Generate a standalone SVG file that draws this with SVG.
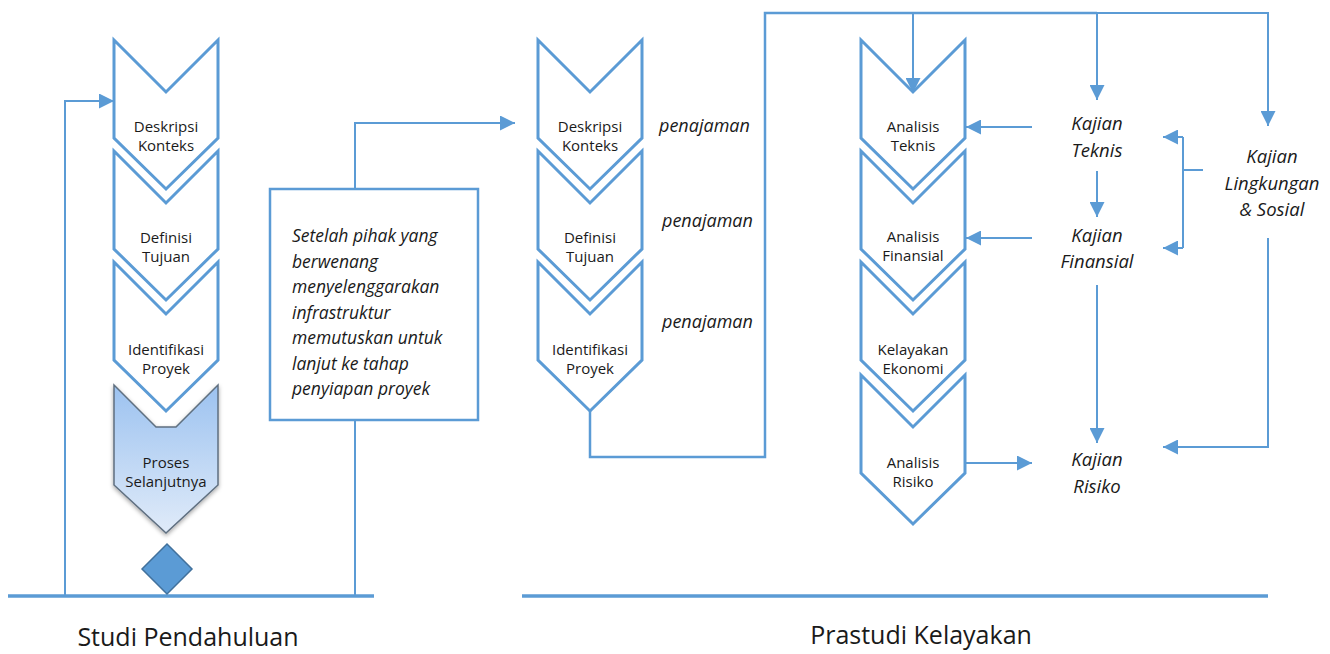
<svg xmlns="http://www.w3.org/2000/svg" width="1330" height="654" viewBox="0 0 1330 654">
<defs>
<marker id="arr" viewBox="0 0 10 10" refX="10" refY="5" markerWidth="15" markerHeight="15" markerUnits="userSpaceOnUse" orient="auto"><path d="M0,0 L10,5 L0,10 z" fill="#5B9BD5"/></marker>
<linearGradient id="pg" x1="0" y1="0" x2="0" y2="1"><stop offset="0" stop-color="#9CC2F0"/><stop offset="1" stop-color="#E0EBF9"/></linearGradient>
<filter id="sh" x="-20%" y="-20%" width="140%" height="140%"><feDropShadow dx="0" dy="2" stdDeviation="2" flood-color="#000" flood-opacity="0.35"/></filter>
</defs>
<style>
.chev{fill:#fff;stroke:#5B9BD5;stroke-width:3;stroke-linejoin:miter}
.lbl{font-family:"Open Sans","Noto Sans",sans-serif;font-size:15px;fill:#1a1a1a;text-anchor:middle}
.it{font-family:"Open Sans","Noto Sans",sans-serif;font-style:italic;font-size:18.5px;fill:#1a1a1a;text-anchor:middle}
.pen{font-family:"Open Sans","Noto Sans",sans-serif;font-style:italic;font-size:18px;fill:#1a1a1a}
.box{font-family:"Open Sans","Noto Sans",sans-serif;font-style:italic;font-size:17.5px;fill:#1a1a1a}
.title{font-family:"Open Sans","Noto Sans",sans-serif;font-size:25px;fill:#1a1a1a;text-anchor:middle}
.cn{fill:none;stroke:#5B9BD5;stroke-width:2}
.base{stroke:#5B9BD5;stroke-width:3.5}
</style>

<g id="baselines">
<line class="base" x1="8" y1="596" x2="374" y2="596"/>
<line class="base" x1="522" y1="596" x2="1268" y2="596"/>
</g>

<g id="connectors">
<path class="cn" d="M65,596 V101 H114" marker-end="url(#arr)"/>
<path class="cn" d="M355,596 V420"/>
<path class="cn" d="M355,189 V123 H515" marker-end="url(#arr)"/>
<path class="cn" style="stroke-width:2.5" d="M590,411 V457 H765 V13 H1097"/>
<path class="cn" d="M1097,13 H1268 V126" marker-end="url(#arr)"/>
<path class="cn" d="M913,13 V93" marker-end="url(#arr)"/>
<path class="cn" d="M1097,13 V100" marker-end="url(#arr)"/>
<path class="cn" d="M1032,127 H966" marker-end="url(#arr)"/>
<path class="cn" d="M1032,238 H966" marker-end="url(#arr)"/>
<path class="cn" d="M1097,171 V217" marker-end="url(#arr)"/>
<path class="cn" d="M1203,170 H1183"/>
<path class="cn" d="M1183,137 V248"/>
<path class="cn" d="M1183,137 H1163" marker-end="url(#arr)"/>
<path class="cn" d="M1183,248 H1163" marker-end="url(#arr)"/>
<path class="cn" d="M1097,285 V443" marker-end="url(#arr)"/>
<path class="cn" d="M1268,238 V447 H1163" marker-end="url(#arr)"/>
<path class="cn" d="M965,463 H1032" marker-end="url(#arr)"/>
</g>

<g id="proses">
<path d="M114,385 L156,427 L176,427 L218,385 L218,485 L166,533 L114,485 Z" fill="url(#pg)" stroke="#5F6F80" stroke-width="1.5" filter="url(#sh)"/>
<text class="lbl" x="166" y="468">Proses</text>
<text class="lbl" x="166" y="487">Selanjutnya</text>
</g>

<g id="l-deskripsi">
<path class="chev" d="M114,40 L166,92 L218,40 L218,138 L166,189 L114,138 Z"/>
<text class="lbl" x="166" y="132">Deskripsi</text>
<text class="lbl" x="166" y="151">Konteks</text>
</g>
<g id="l-definisi">
<path class="chev" d="M114,151 L166,203 L218,151 L218,249 L166,300 L114,249 Z"/>
<text class="lbl" x="166" y="243">Definisi</text>
<text class="lbl" x="166" y="262">Tujuan</text>
</g>
<g id="l-identifikasi">
<path class="chev" d="M114,262 L166,314 L218,262 L218,360 L166,411 L114,360 Z"/>
<text class="lbl" x="166" y="355">Identifikasi</text>
<text class="lbl" x="166" y="374">Proyek</text>
</g>

<g id="diamond">
<path d="M167,544 L192,569 L167,594 L142,569 Z" fill="#5B9BD5" stroke="#41719C" stroke-width="1.5"/>
</g>

<g id="note">
<rect x="270" y="189" width="208" height="231" fill="#fff" stroke="#5B9BD5" stroke-width="2.5"/>
<text class="box" x="292" y="242">Setelah pihak yang</text>
<text class="box" x="292" y="267.5">berwenang</text>
<text class="box" x="292" y="293">menyelenggarakan</text>
<text class="box" x="292" y="318.5">infrastruktur</text>
<text class="box" x="292" y="344">memutuskan untuk</text>
<text class="box" x="292" y="369.5">lanjut ke tahap</text>
<text class="box" x="292" y="395">penyiapan proyek</text>
</g>

<g id="m-deskripsi">
<path class="chev" d="M538,40 L590,92 L642,40 L642,138 L590,189 L538,138 Z"/>
<text class="lbl" x="590" y="132">Deskripsi</text>
<text class="lbl" x="590" y="151">Konteks</text>
</g>
<g id="m-definisi">
<path class="chev" d="M538,151 L590,203 L642,151 L642,249 L590,300 L538,249 Z"/>
<text class="lbl" x="590" y="243">Definisi</text>
<text class="lbl" x="590" y="262">Tujuan</text>
</g>
<g id="m-identifikasi">
<path class="chev" d="M538,262 L590,314 L642,262 L642,360 L590,411 L538,360 Z"/>
<text class="lbl" x="590" y="355">Identifikasi</text>
<text class="lbl" x="590" y="374">Proyek</text>
</g>

<g id="penajaman">
<text class="pen" x="659" y="132">penajaman</text>
<text class="pen" x="662" y="227">penajaman</text>
<text class="pen" x="662" y="328">penajaman</text>
</g>

<g id="r-teknis">
<path class="chev" d="M861,40 L913,92 L965,40 L965,138 L913,189 L861,138 Z"/>
<text class="lbl" x="913" y="132">Analisis</text>
<text class="lbl" x="913" y="151">Teknis</text>
</g>
<g id="r-finansial">
<path class="chev" d="M861,151 L913,203 L965,151 L965,249 L913,300 L861,249 Z"/>
<text class="lbl" x="913" y="242">Analisis</text>
<text class="lbl" x="913" y="261">Finansial</text>
</g>
<g id="r-ekonomi">
<path class="chev" d="M861,262 L913,314 L965,262 L965,360 L913,411 L861,360 Z"/>
<text class="lbl" x="913" y="355">Kelayakan</text>
<text class="lbl" x="913" y="374">Ekonomi</text>
</g>
<g id="r-risiko">
<path class="chev" d="M861,375 L913,427 L965,375 L965,473 L913,524 L861,473 Z"/>
<text class="lbl" x="913" y="468">Analisis</text>
<text class="lbl" x="913" y="487">Risiko</text>
</g>

<g id="k-teknis">
<text class="it" x="1097" y="130">Kajian</text>
<text class="it" x="1097" y="157">Teknis</text>
</g>
<g id="k-finansial">
<text class="it" x="1097" y="242">Kajian</text>
<text class="it" x="1097" y="268">Finansial</text>
</g>
<g id="k-lingkungan">
<text class="it" x="1272" y="163">Kajian</text>
<text class="it" x="1272" y="190">Lingkungan</text>
<text class="it" x="1272" y="216">&amp; Sosial</text>
</g>
<g id="k-risiko">
<text class="it" x="1097" y="466">Kajian</text>
<text class="it" x="1097" y="493">Risiko</text>
</g>

<g id="titles">
<text class="title" x="188" y="646">Studi Pendahuluan</text>
<text class="title" x="921" y="644">Prastudi Kelayakan</text>
</g>
</svg>
